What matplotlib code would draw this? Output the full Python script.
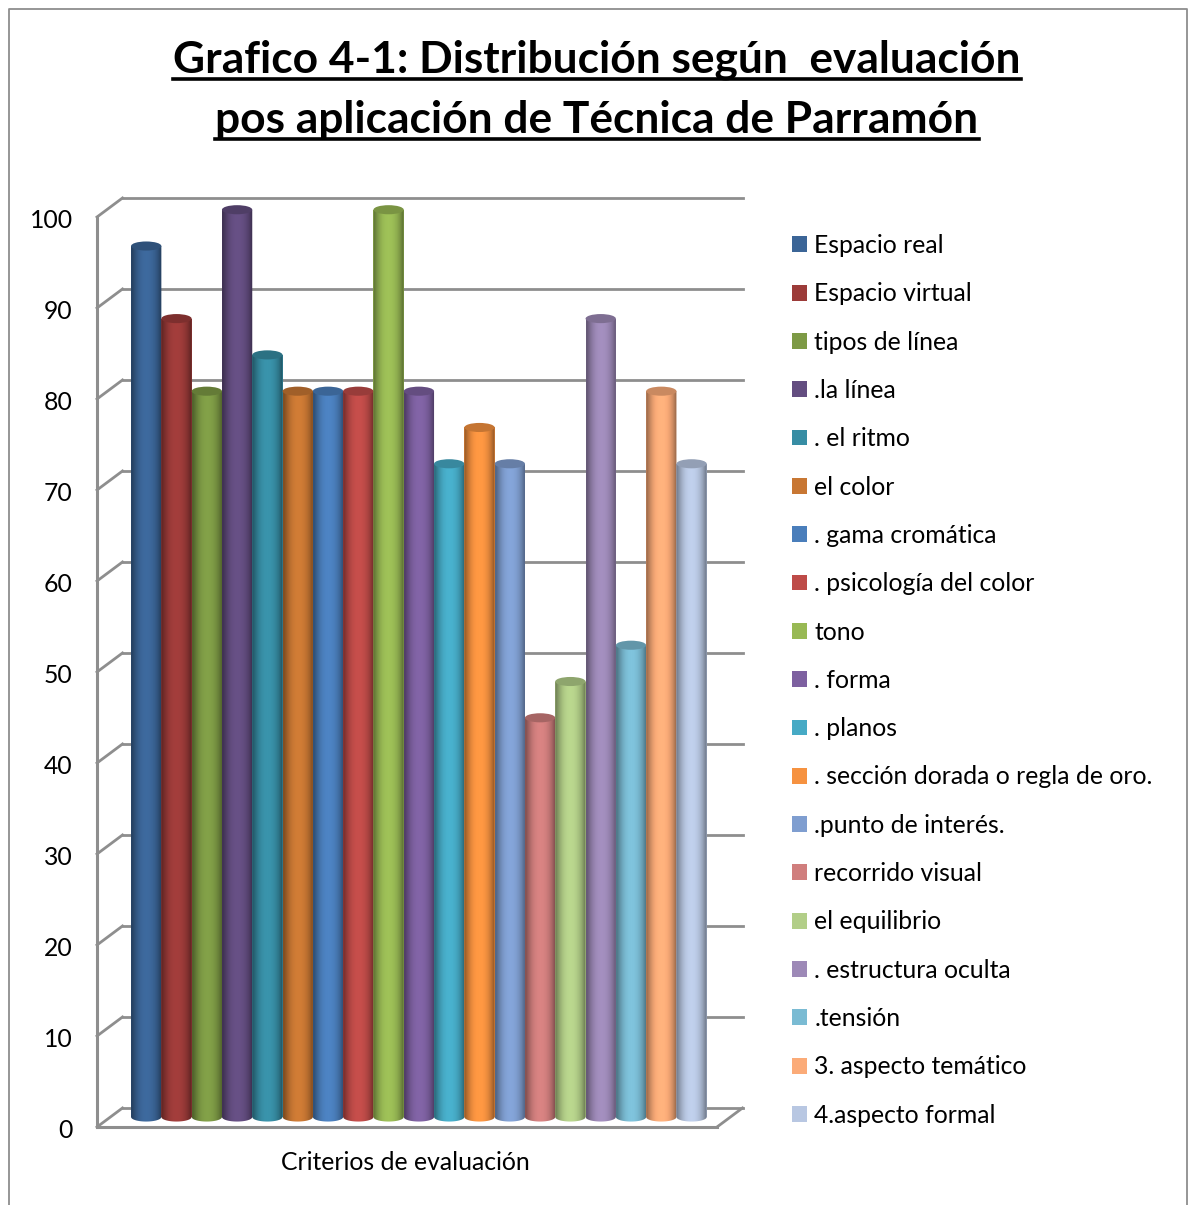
import matplotlib
matplotlib.use("Agg")
import matplotlib.pyplot as plt
import numpy as np
from matplotlib.lines import Line2D
from matplotlib.patches import Ellipse, Patch
from matplotlib.path import Path
from matplotlib.transforms import Affine2D

plt.rcParams["font.family"] = "Lato"

criterios = ["Espacio real", "Espacio virtual", "tipos de línea", ".la línea", ". el ritmo",
             "el color", ". gama cromática", ". psicología del color", "tono", ". forma",
             ". planos", ". sección dorada o regla de oro.", ".punto de interés.",
             "recorrido visual", "el equilibrio", ". estructura oculta", ".tensión",
             "3. aspecto temático", "4.aspecto formal"]
valores = [96, 88, 80, 100, 84, 80, 80, 80, 100, 80, 72, 76, 72, 44, 48, 88, 52, 80, 72]
colores = ["#3B6597", "#9C3B39", "#7D9A45", "#634D80", "#378DA4", "#C87733", "#4A7EBB",
           "#BE4B48", "#98B954", "#7D60A0", "#46AAC5", "#F69240", "#7F9ED0", "#D07E7D",
           "#B2CE88", "#9D89B7", "#7ABBD3", "#FBAB78", "#B8C7E2"]
marcas = [0, 10, 20, 30, 40, 50, 60, 70, 80, 90, 100]
titulo = ["Grafico 4-1: Distribución según  evaluación", "pos aplicación de Técnica de Parramón"]

W, H = 1188, 1205
GRIS = "#8E8E8E"
fig = plt.figure(figsize=(W / 100, H / 100), dpi=100)


def rect(x0, y0, x1, y1):
    # pixel box (y measured from the top) to figure fractions
    return [x0 / W, 1 - y1 / H, (x1 - x0) / W, (y1 - y0) / H]


# outer chart frame, runs off the bottom of the picture
fig.add_artist(Line2D([8.5 / W, 8.5 / W, 1186.5 / W, 1186.5 / W], [0, 1 - 8.5 / H, 1 - 8.5 / H, 0],
                      color=GRIS, lw=1.3))

ax = fig.add_axes(rect(97, 217, 717, 1127))
paso = 30.3
izq = (97 - 146.2) / paso
der = (717 - 146.2) / paso
fondo_x = 25.5 / paso
fondo_y = 19 / 9.1
alza = 10 / 9.1
elipse = 0.5
x = np.arange(len(valores))

# walls
for m in marcas:
    ax.plot([izq + fondo_x, der + fondo_x], [m + fondo_y, m + fondo_y], color=GRIS, lw=2, zorder=1, clip_on=False)
    ax.plot([izq, izq + fondo_x], [m, m + fondo_y], color=GRIS, lw=2, zorder=1, clip_on=False)
ax.plot([der, der + fondo_x], [0, fondo_y], color=GRIS, lw=2, zorder=1, clip_on=False)

# cylinders: plain bars, shaded over with a clipped gradient and capped with an ellipse
alturas = np.array(valores) * 0.997
barras = ax.bar(x, alturas, width=1, bottom=alza, color=colores, zorder=2, clip_on=False)
sombra = np.array([0.66, 0.8, 0.92, 1.0, 1.04, 1.05, 1.04, 1.0, 0.93, 0.82, 0.66])
for i, b in enumerate(barras):
    base = np.array(matplotlib.colors.to_rgb(colores[i]))
    tira = np.clip(base[None, None, :] * sombra[None, :, None], 0, 1)
    x0, x1 = b.get_x(), b.get_x() + b.get_width()
    tope = alza + alturas[i]
    z = 3 + i * 0.1
    t = np.linspace(np.pi, 2 * np.pi, 30)
    borde = np.column_stack([x[i] + 0.5 * np.cos(t), alza + elipse * np.sin(t)])
    verts = np.vstack([borde, [[x1, tope], [x0, tope], [x0, alza]]])
    forma = Path(verts, closed=False)
    im = ax.imshow(tira, extent=[x0, x1, alza - elipse, tope], aspect="auto",
                   interpolation="bilinear", zorder=z)
    im.set_clip_path(forma, ax.transData)
    im.set_clip_box(fig.bbox)
    ax.add_patch(Ellipse((x[i], tope), 1, 2 * elipse, facecolor=base * 0.8,
                         edgecolor="none", zorder=z + 0.01, clip_on=False))

ax.set_xlim(izq, der)
ax.set_ylim(0, 100)
ax.set_xticks([])
ax.set_yticks(marcas)
ax.tick_params(axis="y", length=0, pad=17.5, labelsize=17.8)
for lab in ax.get_yticklabels():
    lab.set_transform(lab.get_transform() + Affine2D().translate(0, -1.5))
ax.patch.set_visible(False)
for lado in ["top", "right"]:
    ax.spines[lado].set_visible(False)
for lado in ["left", "bottom"]:
    ax.spines[lado].set_color(GRIS)
    ax.spines[lado].set_linewidth(2.2)
    ax.spines[lado].set_zorder(1.5)
ax.set_xlabel("Criterios de evaluación", fontsize=17.8, labelpad=17, x=0.498)

# title with drawn underline
fig.canvas.draw()
r = fig.canvas.get_renderer()
for linea, base_y in zip(titulo, [73, 133]):
    t = fig.text(597 / W, 1 - base_y / H, linea, ha="center", va="baseline", fontsize=31.85,
                 fontweight="bold", color="black")
    caja = t.get_window_extent(r)
    fig.add_artist(Line2D([caja.x0 / W, caja.x1 / W], [1 - (base_y + 5.5) / H] * 2, color="black", lw=2.6))

manos = [Patch(facecolor=c, label=n) for c, n in zip(colores, criterios)]
fig.legend(handles=manos, loc="upper left", bbox_to_anchor=(792 / W, 1 - 234 / H), frameon=False,
           fontsize=17.8, borderpad=0, borderaxespad=0, handlelength=0.61, handleheight=0.61,
           handletextpad=0.3, labelspacing=1.024)

fig.savefig("out.png", dpi=100)
